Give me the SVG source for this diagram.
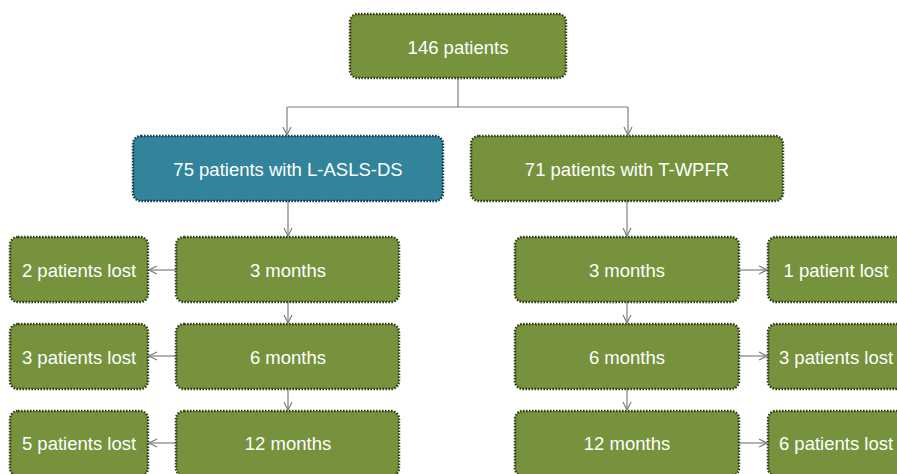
<svg xmlns="http://www.w3.org/2000/svg" width="897" height="474" viewBox="0 0 897 474">
<defs>
<marker id="arr" viewBox="0 0 10 10" refX="9" refY="5" markerWidth="10" markerHeight="10" markerUnits="userSpaceOnUse" orient="auto">
<path d="M1,1 L9,5 L1,9" fill="none" stroke="#7f7f7f" stroke-width="1.2"/>
</marker>
<style>
.box{fill:#76923c;stroke:#33401a;stroke-width:2.5;stroke-dasharray:1.6 1.4}
.blue{fill:#31849b;stroke:#1c3a48;stroke-width:2.5;stroke-dasharray:1.6 1.4}
.t{font-family:"Liberation Sans",Arial,sans-serif;font-size:18.5px;fill:#ffffff;text-anchor:middle;dominant-baseline:central}
.c{fill:none;stroke:#7f7f7f;stroke-width:1.2}
</style>
</defs>
<rect width="897" height="474" fill="#ffffff"/>
<g id="connectors">
<path class="c" d="M458,78 V107 M287,107 H628"/>
<path class="c" d="M287,107 V135" marker-end="url(#arr)"/>
<path class="c" d="M628,107 V135" marker-end="url(#arr)"/>
<path class="c" d="M288,201 V236" marker-end="url(#arr)"/>
<path class="c" d="M288,302 V323" marker-end="url(#arr)"/>
<path class="c" d="M288,389 V410" marker-end="url(#arr)"/>
<path class="c" d="M627,201 V236" marker-end="url(#arr)"/>
<path class="c" d="M627,302 V323" marker-end="url(#arr)"/>
<path class="c" d="M627,389 V410" marker-end="url(#arr)"/>
<path class="c" d="M176,270 H149" marker-end="url(#arr)"/>
<path class="c" d="M176,356 H149" marker-end="url(#arr)"/>
<path class="c" d="M176,443 H149" marker-end="url(#arr)"/>
<path class="c" d="M739,270 H767" marker-end="url(#arr)"/>
<path class="c" d="M739,356 H767" marker-end="url(#arr)"/>
<path class="c" d="M739,443 H767" marker-end="url(#arr)"/>
</g>
<g id="n-total"><rect class="box" x="350" y="14" width="216" height="64" rx="8"/><text class="t" x="458" y="47">146 patients</text></g>
<g id="n-lasls"><rect class="blue" x="133" y="136" width="310" height="65" rx="8"/><text class="t" x="288" y="169">75 patients with L-ASLS-DS</text></g>
<g id="n-twpfr"><rect class="box" x="471" y="136" width="312" height="65" rx="8"/><text class="t" x="627" y="169">71 patients with T-WPFR</text></g>
<g id="n-l3"><rect class="box" x="176" y="237" width="223" height="65" rx="8"/><text class="t" x="288" y="270">3 months</text></g>
<g id="n-l6"><rect class="box" x="176" y="324" width="223" height="65" rx="8"/><text class="t" x="288" y="357">6 months</text></g>
<g id="n-l12"><rect class="box" x="176" y="411" width="223" height="65" rx="8"/><text class="t" x="288" y="443">12 months</text></g>
<g id="n-ll3"><rect class="box" x="10" y="237" width="138" height="65" rx="8"/><text class="t" x="79" y="270">2 patients lost</text></g>
<g id="n-ll6"><rect class="box" x="10" y="324" width="138" height="65" rx="8"/><text class="t" x="79" y="357">3 patients lost</text></g>
<g id="n-ll12"><rect class="box" x="10" y="411" width="138" height="65" rx="8"/><text class="t" x="79" y="443">5 patients lost</text></g>
<g id="n-r3"><rect class="box" x="515" y="237" width="224" height="65" rx="8"/><text class="t" x="627" y="270">3 months</text></g>
<g id="n-r6"><rect class="box" x="515" y="324" width="224" height="65" rx="8"/><text class="t" x="627" y="357">6 months</text></g>
<g id="n-r12"><rect class="box" x="515" y="411" width="224" height="65" rx="8"/><text class="t" x="627" y="443">12 months</text></g>
<g id="n-rl3"><rect class="box" x="768" y="237" width="140" height="65" rx="8"/><text class="t" x="836" y="270">1 patient lost</text></g>
<g id="n-rl6"><rect class="box" x="768" y="324" width="140" height="65" rx="8"/><text class="t" x="836" y="357">3 patients lost</text></g>
<g id="n-rl12"><rect class="box" x="768" y="411" width="140" height="65" rx="8"/><text class="t" x="836" y="443">6 patients lost</text></g>
</svg>
